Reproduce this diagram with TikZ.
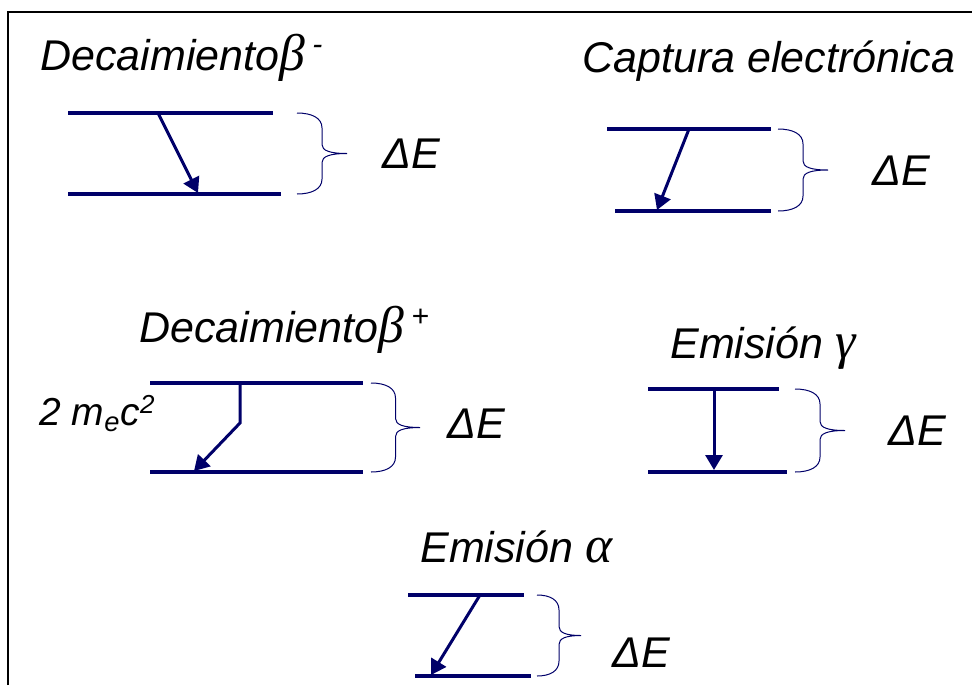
\documentclass[tikz,border=0pt]{standalone}
\usepackage{fontspec}
\setmainfont{Liberation Sans}
\newfontfamily\greekfont{Liberation Serif}[Scale=1.2]
\usetikzlibrary{arrows.meta}
\definecolor{navy}{RGB}{0,0,105}
\tikzset{
    level/.style={draw=navy, line width=1.7pt},
    jump/.style={draw=navy, line width=1.5pt, line join=miter, -{Triangle[length=7.5pt,width=8.5pt]}},
    bracket/.style={draw=navy, line width=0.5pt},
    label/.style={anchor=base west, inner sep=0pt, font=\fontsize{21.5}{25}\selectfont\itshape},
}
\begin{document}
\begin{tikzpicture}[x=0.5pt, y=-0.5pt]
    \useasboundingbox (0,0) rectangle (972,685);
    % frame
    \draw[line width=1pt] (8,685) -- (8,12) -- (972,12);
    % titles
    \node[label] (title bmin) at (40,70) {Decaimiento{\greekfont β}\,\textsuperscript{-}};
    \node[label] (title capt) at (582,72) {Captura electrónica};
    \node[label] (title bplus) at (139,342) {Decaimiento{\greekfont β}\,\textsuperscript{+}};
    \node[label] (title gamma) at (670,358) {Emisión {\greekfont γ}};
    \node[label] (title alpha) at (420,562) {Emisión {\greekfont α}};
    \node[label, font=\fontsize{19.5}{24}\selectfont\itshape] (mass) at (39,425) {2 m\textsubscript{e}c{\fontsize{13}{14}\selectfont\raisebox{0.45em}{2}}};
    % energy labels
    \node[label] (dE bmin) at (382,168) {ΔE};
    \node[label] (dE capt) at (872,185) {ΔE};
    \node[label] (dE bplus) at (447,438) {ΔE};
    \node[label] (dE gamma) at (888,445) {ΔE};
    \node[label] (dE alpha) at (612,667) {ΔE};
    % levels
    \draw[level] (68,113) -- (273,113);
    \draw[level] (68,194) -- (281,194);
    \draw[level] (607,129) -- (771,129);
    \draw[level] (615,211) -- (771,211);
    \draw[level] (150,383) -- (363,383);
    \draw[level] (150,472) -- (363,472);
    \draw[level] (648,389) -- (779,389);
    \draw[level] (648,472) -- (787,472);
    \draw[level] (408,595) -- (524,595);
    \draw[level] (415,676) -- (531,676);
    % transitions
    \coordinate (bmin from) at (158,113);
    \coordinate (bmin to) at (198,193);
    \coordinate (capt from) at (689,129);
    \coordinate (capt to) at (657,210);
    \coordinate (bplus from) at (240,383);
    \coordinate (bplus bend) at (240,423);
    \coordinate (bplus to) at (194,471);
    \coordinate (gamma from) at (714,389);
    \coordinate (gamma to) at (714,470);
    \coordinate (alpha from) at (480,595);
    \coordinate (alpha to) at (431,675);
    \draw[jump] (bmin from) -- (bmin to);
    \draw[jump] (capt from) -- (capt to);
    \draw[jump] (bplus from) -- (bplus bend) -- (bplus to);
    \draw[jump] (gamma from) -- (gamma to);
    \draw[jump] (alpha from) -- (alpha to);
    % braces
    \foreach \bx/\bt/\bb/\bw in {297/113/194/50, 778/129/211/50, 371/383/472/49, 795/389/472/50, 537/595/676/44}{
        \pgfmathsetmacro\bm{(\bt+\bb)/2}
        \draw[bracket] (\bx,\bt) .. controls +(0.3*\bw,0) and +(0,-10) .. (\bx+0.5*\bw,\bt+15)
            -- (\bx+0.5*\bw,\bm-9) .. controls +(0,6) and +(-0.35*\bw,0) .. (\bx+\bw,\bm)
            .. controls +(-0.35*\bw,0) and +(0,-6) .. (\bx+0.5*\bw,\bm+9)
            -- (\bx+0.5*\bw,\bb-15) .. controls +(0,10) and +(0.3*\bw,0) .. (\bx,\bb);
    }
\end{tikzpicture}
\end{document}
